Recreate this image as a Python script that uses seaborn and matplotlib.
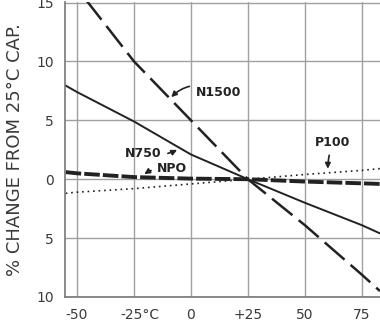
import pandas as pd
import matplotlib
matplotlib.use("Agg")
import matplotlib.pyplot as plt
import matplotlib.transforms as mtransforms
import seaborn as sns

# temperatures (deg C) and % change of capacitance
temps = [-55, -50, -25, 0, 25, 50, 75, 83]
n1500 = [17.4, 16.2, 10.0, 5.0, 0.0, -3.9, -8.1, -9.5]
n750 = [7.95, 7.4, 4.9, 2.1, 0.0, -2.0, -3.9, -4.6]
npo = [0.6, 0.5, 0.18, 0.05, 0.0, -0.2, -0.35, -0.4]
p100 = [-1.2, -1.1, -0.8, -0.4, 0.0, 0.4, 0.75, 0.9]

xticks = [-50, -25, 0, 25, 50, 75]
xlabels = ["-50", "-25°C", "0", "+25", "50", "75"]
yticks = [-10, -5, 0, 5, 10, 15]
ylabels = ["10", "5", "0", "5", "10", "15"]

df = pd.DataFrame({"T": temps, "N1500": n1500, "N750": n750, "NPO": npo, "P100": p100})

sns.set_style("white")
fig = plt.figure(figsize=(3.8, 3.23), dpi=100)
ax = fig.add_axes([0.171, 0.0805, 0.829, 0.9135])

ink = "#222222"
sns.lineplot(data=df, x="T", y="N1500", ax=ax, color=ink, lw=1.8)
ax.lines[-1].set_dashes((10.5, 3.2))
sns.lineplot(data=df, x="T", y="N750", ax=ax, color=ink, lw=1.4)
sns.lineplot(data=df, x="T", y="NPO", ax=ax, color=ink, lw=2.8)
ax.lines[-1].set_dashes((4, 0.8))
sns.lineplot(data=df, x="T", y="P100", ax=ax, color=ink, lw=1.2)
ax.lines[-1].set_dashes((1, 2.3))

ax.set_xlim(-55.3, 83)
ax.set_ylim(-10, 15.05)
ax.set_xticks(xticks)
ax.set_xticklabels(xlabels, fontsize=10, color="#3a3a3a")
ax.set_yticks(yticks)
ax.set_yticklabels(ylabels, fontsize=10, color="#3a3a3a")
ax.tick_params(length=0, pad=8)
# the "-25" part of "-25°C" sits on the grid line
shift = mtransforms.ScaledTranslation(6 / 100, 0, fig.dpi_scale_trans)
ax.get_xticklabels()[1].set_transform(ax.get_xticklabels()[1].get_transform() + shift)

ax.grid(True, color="#a0a0a0", lw=1)
for s in ["top", "right"]:
    ax.spines[s].set_visible(False)
for s in ["left", "bottom"]:
    ax.spines[s].set_color("#777777")
    ax.spines[s].set_linewidth(1.2)

ax.set_xlabel("")
ax.set_ylabel("% CHANGE FROM 25°C CAP.", fontsize=13, color="#3a3a3a")
ax.yaxis.set_label_coords(-0.13, 0.5)

lab = dict(fontsize=9, fontweight="bold", color=ink, va="center")
arr = dict(arrowstyle="-|>", color=ink, lw=1.2, mutation_scale=8)
ax.annotate("N1500", xy=(-9.5, 6.8), xytext=(2.0, 7.4), ha="left",
            arrowprops=dict(arr, connectionstyle="arc3,rad=0.4"), **lab)
ax.annotate("N750", xy=(-5.0, 2.6), xytext=(-20.8, 2.2), ha="center",
            arrowprops=dict(arr, connectionstyle="arc3,rad=0.2"), **lab)
ax.annotate("NPO", xy=(-21.5, 0.3), xytext=(-8.3, 0.95), ha="center",
            arrowprops=dict(arr, connectionstyle="arc3,rad=0.2"), **lab)
ax.annotate("P100", xy=(60.1, 0.65), xytext=(62.3, 3.1), ha="center",
            arrowprops=dict(arr, connectionstyle="arc3,rad=0.1"), **lab)

fig.savefig("out.png", dpi=100)
